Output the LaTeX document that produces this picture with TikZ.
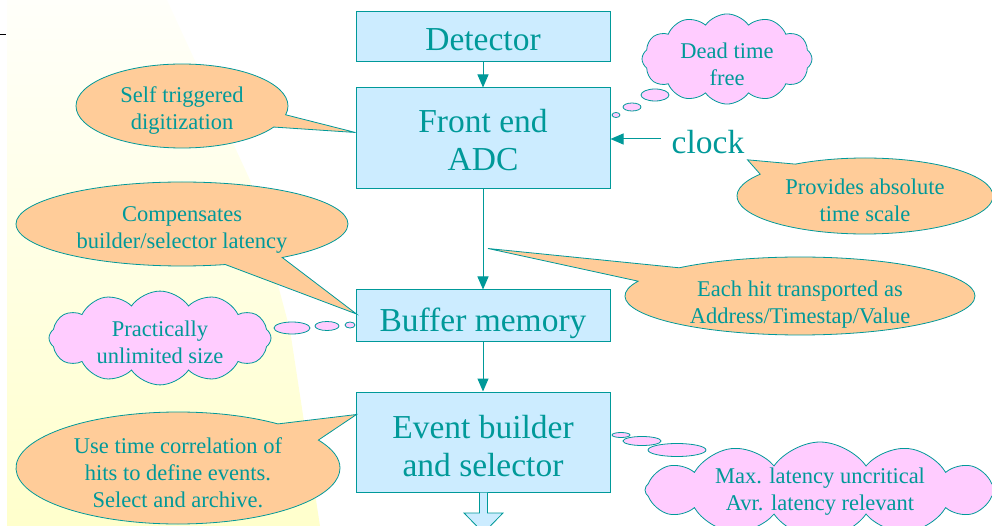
\documentclass[tikz,border=0pt]{standalone}
\usepackage{fontspec}
\setmainfont{Liberation Serif}
\usetikzlibrary{shapes.callouts,shapes.symbols,shapes.geometric,arrows.meta,calc}
\definecolor{teal1}{RGB}{0,153,153}
\definecolor{boxblue}{RGB}{204,236,255}
\definecolor{orng}{RGB}{255,204,153}
\definecolor{pinkc}{RGB}{255,204,255}
\begin{document}
\begin{tikzpicture}[x=1pt,y=-1pt,
 stagebox/.style={draw=teal1,fill=boxblue,line width=1pt,text=teal1,font=\fontsize{33.5}{38}\selectfont,minimum width=254pt,inner sep=0pt,align=center,text depth=0pt},
 callout/.style={ellipse callout,draw=teal1,fill=orng,line width=0.8pt,text=teal1,font=\fontsize{22.5}{27}\selectfont,inner sep=0pt,align=center,text depth=0pt},
 thought/.style={cloud,cloud puffs=12,cloud puff arc=110,cloud ignores aspect,draw=teal1,fill=pinkc,line width=0.8pt,text=teal1,font=\fontsize{22.5}{27}\selectfont,inner sep=0pt,align=center,text depth=0pt},
 bubble/.style={ellipse,draw=teal1,fill=pinkc,line width=0.8pt,inner sep=0pt},
 flow/.style={draw=teal1,line width=1pt,-{Triangle[length=13pt,width=11pt]}}
]
\useasboundingbox (0,0) rectangle (992,526);
\clip (0,0) rectangle (992,526);
% background
\shade[top color=yellow!2, bottom color=yellow!20] (7,0) -- (167,0) -- (250,180) -- (290,330) -- (320,526) -- (7,526) -- cycle;
\draw[black,line width=0.8pt] (0,34) -- (6,34);

% stages
\node[stagebox,minimum height=50pt,text height=28pt] (det) at (483,37) {Detector};
\node[stagebox,minimum height=101pt,text height=65pt] (fe) at (483,138.5) {Front end\\ADC};
\node[stagebox,minimum height=51pt,text height=31pt] (buf) at (483,315.5) {Buffer memory};
\node[stagebox,minimum height=100pt,text height=68pt] (ev) at (483,442) {Event builder\\and selector};
\node[text=teal1,font=\fontsize{33.5}{38}\selectfont,inner sep=0pt,inner xsep=11pt,text depth=0pt] (clock) at (708,142) {clock};

\draw[flow] (det) -- (fe);
\draw[flow] (fe) -- (buf);
\draw[flow] (buf) -- (ev);
\draw[flow] (clock.west |- 0,139) -- (fe.east |- 0,139);

% output arrow
\draw[draw=teal1,fill=boxblue,line width=0.8pt] (479.5,492.5) -- (479.5,513) -- (464,513) -- (483.5,533) -- (503,513) -- (487.5,513) -- (487.5,492.5);

\coordinate (tipE) at ($(fe.south)!0.59!(buf.north)+(5,0)$);

% callouts
\node[callout,minimum width=212pt,minimum height=84pt,callout pointer arc=18,text height=47pt,
  callout absolute pointer={($(fe.west)+(0,-6)$)}] (self) at (182,106) {Self triggered\\digitization};
\node[callout,minimum width=332pt,minimum height=84pt,callout pointer arc=22,text height=49pt,
  callout absolute pointer={($(buf.west)+(1,-1.5)$)}] (comp) at (182,224) {Compensates\\builder/selector latency};
\node[callout,minimum width=324pt,minimum height=112pt,callout pointer arc=22,text height=79pt,
  callout absolute pointer={($(ev.north west)+(1,23)$)}] (use) at (178,468) {Use time correlation of\\hits to define events.\\Select and archive.};
\node[callout,minimum width=256pt,minimum height=76pt,callout pointer arc=22,text height=51pt,
  callout absolute pointer={($(clock.south east)+(-8,6)$)}] (prov) at (865,196) {Provides absolute\\time scale};
\node[callout,minimum width=350pt,minimum height=78pt,callout pointer arc=24,text height=55pt,
  callout absolute pointer={(tipE)}] (each) at (800,296) {Each hit transported as\\Address/Timestap/Value};

% thought clouds
\node[thought,minimum width=170pt,minimum height=80pt,text height=53pt] (dead) at (727,59) {Dead time\\free};
\node[bubble,minimum width=28pt,minimum height=12pt] (d1) at (655,95) {};
\node[bubble,minimum width=18pt,minimum height=8pt] (d2) at (632,107) {};
\node[bubble,minimum width=8pt,minimum height=5pt] (d3) at (616,115) {};

\node[thought,minimum width=222pt,minimum height=78pt,text height=51pt] (prac) at (160,338) {Practically\\unlimited size};
\node[bubble,minimum width=36pt,minimum height=12pt] (p1) at (292,328) {};
\node[bubble,minimum width=24pt,minimum height=9pt] (p2) at (327,326) {};
\node[bubble,minimum width=10pt,minimum height=6pt] (p3) at (350,325) {};

\node[thought,minimum width=350pt,minimum height=86pt,text height=41pt] (maxl) at (820,490) {Max. latency uncritical\\Avr. latency relevant};
\node[bubble,minimum width=58pt,minimum height=13pt] (m1) at (677,450) {};
\node[bubble,minimum width=38pt,minimum height=9pt] (m2) at (642,441) {};
\node[bubble,minimum width=18pt,minimum height=5pt] (m3) at (621,435) {};
\end{tikzpicture}
\end{document}
